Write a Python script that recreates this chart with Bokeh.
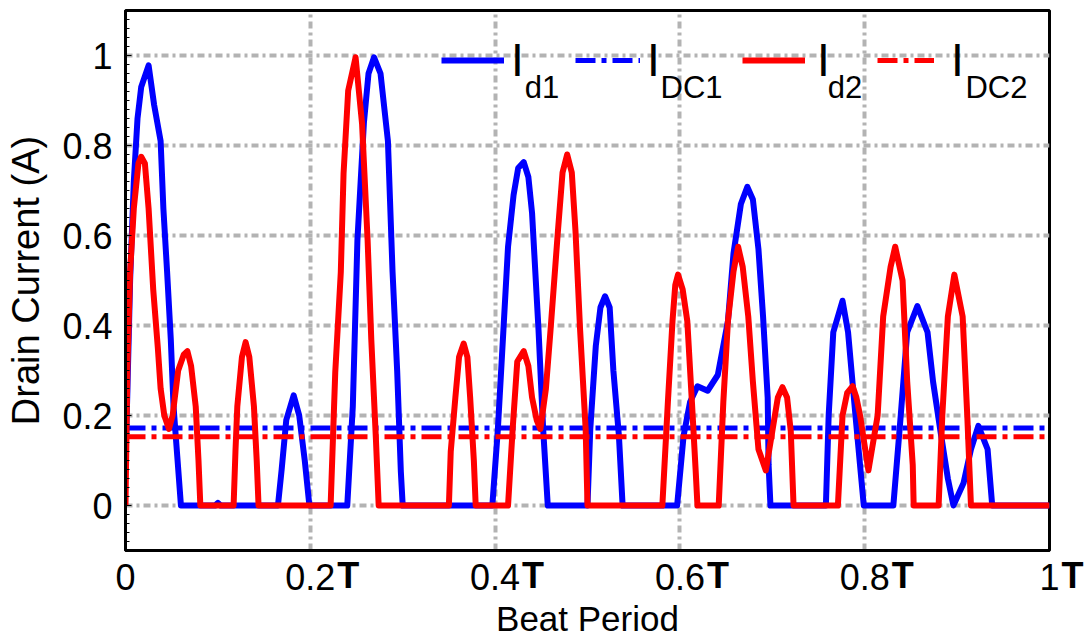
from bokeh.plotting import figure
from bokeh.models import Label, Legend, LegendItem, FixedTicker, Range1d, LinearAxis
from bokeh.embed import file_html
from bokeh.resources import INLINE

# ---- data (beat period fraction, drain current in A) ----
x_d1 = [0.000, 0.002, 0.005, 0.009, 0.013, 0.017, 0.025, 0.031, 0.038, 0.041, 0.045, 0.049,
        0.052, 0.056, 0.060, 0.097, 0.100, 0.103, 0.165, 0.169, 0.174, 0.182, 0.188, 0.194,
        0.199, 0.240, 0.246, 0.251, 0.258, 0.263, 0.269, 0.276, 0.284, 0.289, 0.294, 0.298,
        0.300, 0.397, 0.403, 0.409, 0.414, 0.420, 0.425, 0.431, 0.436, 0.440, 0.447, 0.452,
        0.457, 0.500, 0.503, 0.509, 0.514, 0.519, 0.524, 0.528, 0.534, 0.538, 0.597, 0.604,
        0.611, 0.619, 0.630, 0.641, 0.652, 0.658, 0.666, 0.673, 0.679, 0.685, 0.690, 0.695,
        0.696, 0.698, 0.758, 0.761, 0.766, 0.776, 0.782, 0.790, 0.799, 0.831, 0.839, 0.846,
        0.857, 0.868, 0.874, 0.882, 0.890, 0.896, 0.907, 0.915, 0.923, 0.933, 0.938, 1.000]
id1 = [0.10, 0.25, 0.50, 0.72, 0.86, 0.93, 0.978, 0.89, 0.81, 0.66, 0.52, 0.37,
       0.22, 0.11, 0.0, 0.0, 0.006, 0.0, 0.0, 0.08, 0.19, 0.245, 0.20, 0.10,
       0.0, 0.0, 0.22, 0.59, 0.85, 0.96, 0.996, 0.96, 0.81, 0.52, 0.30, 0.075,
       0.0, 0.0, 0.17, 0.39, 0.575, 0.69, 0.75, 0.763, 0.73, 0.65, 0.39, 0.17,
       0.0, 0.0, 0.17, 0.355, 0.44, 0.465, 0.44, 0.30, 0.155, 0.0, 0.0, 0.155,
       0.23, 0.265, 0.255, 0.29, 0.41, 0.56, 0.67, 0.708, 0.68, 0.57, 0.42, 0.24,
       0.09, 0.0, 0.0, 0.20, 0.385, 0.455, 0.385, 0.20, 0.0, 0.0, 0.20, 0.385,
       0.443, 0.385, 0.275, 0.165, 0.06, 0.0, 0.05, 0.125, 0.177, 0.125, 0.0, 0.0]

x_d2 = [0.000, 0.001, 0.002, 0.005, 0.009, 0.011, 0.014, 0.017, 0.021, 0.025, 0.030, 0.035,
        0.038, 0.042, 0.047, 0.051, 0.057, 0.063, 0.067, 0.071, 0.076, 0.079, 0.081, 0.117,
        0.119, 0.121, 0.126, 0.130, 0.134, 0.139, 0.142, 0.144, 0.222, 0.227, 0.233, 0.236,
        0.241, 0.249, 0.256, 0.262, 0.266, 0.271, 0.274, 0.350, 0.352, 0.357, 0.361, 0.366,
        0.370, 0.373, 0.377, 0.379, 0.414, 0.419, 0.424, 0.431, 0.436, 0.440, 0.445, 0.449,
        0.455, 0.460, 0.468, 0.473, 0.478, 0.483, 0.487, 0.492, 0.498, 0.500, 0.581, 0.587,
        0.592, 0.595, 0.598, 0.603, 0.608, 0.613, 0.617, 0.619, 0.642, 0.647, 0.652, 0.658,
        0.663, 0.668, 0.674, 0.679, 0.685, 0.693, 0.700, 0.706, 0.711, 0.716, 0.720, 0.723,
        0.771, 0.776, 0.781, 0.787, 0.791, 0.795, 0.804, 0.814, 0.820, 0.828, 0.833, 0.841,
        0.846, 0.852, 0.853, 0.880, 0.884, 0.890, 0.897, 0.906, 0.911, 0.915, 1.000]
id2 = [0.0, 0.15, 0.30, 0.52, 0.66, 0.70, 0.76, 0.775, 0.76, 0.66, 0.48, 0.35,
       0.26, 0.20, 0.17, 0.20, 0.30, 0.335, 0.343, 0.31, 0.22, 0.10, 0.0, 0.0,
       0.12, 0.22, 0.33, 0.363, 0.33, 0.22, 0.10, 0.0, 0.0, 0.296, 0.518, 0.738,
       0.922, 0.996, 0.849, 0.591, 0.369, 0.148, 0.0, 0.0, 0.12, 0.24, 0.33, 0.36,
       0.33, 0.24, 0.10, 0.0, 0.0, 0.17, 0.32, 0.343, 0.31, 0.24, 0.19, 0.17,
       0.26, 0.39, 0.61, 0.74, 0.78, 0.74, 0.61, 0.39, 0.17, 0.0, 0.0, 0.23,
       0.41, 0.49, 0.513, 0.48, 0.41, 0.23, 0.08, 0.0, 0.0, 0.23, 0.41, 0.52,
       0.575, 0.53, 0.42, 0.275, 0.125, 0.078, 0.165, 0.24, 0.263, 0.24, 0.165, 0.0,
       0.0, 0.20, 0.25, 0.265, 0.24, 0.20, 0.078, 0.20, 0.42, 0.53, 0.575, 0.50,
       0.275, 0.09, 0.0, 0.0, 0.20, 0.42, 0.513, 0.42, 0.20, 0.0, 0.0]

IDC1 = 0.172
IDC2 = 0.153

x_ticks = [0, 0.2, 0.4, 0.6, 0.8, 1.0]
x_tick_labels = ["0", "0.2", "0.4", "0.6", "0.8", "1"]
period_suffix = ["", "T", "T", "T", "T", "T"]
y_ticks = [0, 0.2, 0.4, 0.6, 0.8, 1.0]
y_tick_labels = ["0", "0.2", "0.4", "0.6", "0.8", "1"]
legend_main = ["I", "I", "I", "I"]
legend_subs = ["d1", "DC1", "d2", "DC2"]

FONT = "Liberation Sans"

p = figure(width=1089, height=643, x_range=Range1d(0, 1), y_range=Range1d(-0.1, 1.1),
           output_backend="svg", toolbar_location=None, title=None,
           min_border_left=125, min_border_right=40, min_border_top=10, min_border_bottom=93)
p.background_fill_color = "white"
p.border_fill_color = "white"
p.outline_line_color = "black"
p.outline_line_width = 3

# grid
for g in (p.xgrid, p.ygrid):
    g.grid_line_color = "#b3b3b3"
    g.grid_line_width = 4
    g.grid_line_dash = "7 4 3 4"

# axes
xa = p.xaxis[0]
ya = p.yaxis[0]
xa.ticker = FixedTicker(ticks=x_ticks)
xa.major_label_overrides = {t: l for t, l in zip(x_ticks, x_tick_labels)}
ya.ticker = FixedTicker(ticks=y_ticks,
                        minor_ticks=[round(-0.1 + 0.02 * i, 2) for i in range(61)])
ya.major_label_overrides = {t: l for t, l in zip(y_ticks, y_tick_labels)}
for ax in (xa, ya):
    ax.axis_line_color = "black"
    ax.axis_line_width = 3
    ax.major_tick_out = 0
    ax.minor_tick_out = 0
    ax.major_label_text_font = FONT
    ax.major_label_text_font_size = "36px"
    ax.major_label_text_color = "black"
    ax.axis_label_text_font = FONT
    ax.axis_label_text_font_style = "normal"
    ax.axis_label_text_color = "black"
xa.major_tick_in = 0
xa.minor_tick_in = 0
xa.major_label_standoff = 13
ya.major_tick_in = 6
ya.minor_tick_in = 4
ya.major_tick_line_color = "black"
ya.minor_tick_line_color = "black"
ya.major_label_standoff = 13
ya.axis_label = "Drain Current (A)"
ya.axis_label_text_font_size = "38px"
ya.axis_label_standoff = 12

# bold period suffix "T" after each tick label: a second bottom axis whose labels
# are pulled up next to the numbers; it also carries the x axis title.
t_pos = []
t_lab = {}
for t, lab, suf in zip(x_ticks, x_tick_labels, period_suffix):
    if suf:
        if lab == "1":
            pos, text = t, "\u2003\u00a0" + suf
        else:
            pos, text = round(t + 0.0411, 4), suf
        t_pos.append(pos)
        t_lab[pos] = text
t_axis = LinearAxis(ticker=FixedTicker(ticks=t_pos),
                    major_label_overrides=t_lab, major_label_text_font=FONT,
                    major_label_text_font_size="36px", major_label_text_font_style="bold",
                    major_label_text_color="black", major_label_standoff=-38,
                    axis_line_alpha=0, major_tick_line_alpha=0, minor_tick_line_alpha=0,
                    major_tick_in=0, major_tick_out=0, minor_tick_in=0, minor_tick_out=0,
                    axis_label="Beat Period", axis_label_text_font=FONT,
                    axis_label_text_font_size="35px", axis_label_text_font_style="normal",
                    axis_label_text_color="black", axis_label_standoff=0)
p.add_layout(t_axis, "below")

# curves
r1 = p.line(x_d1, id1, line_color="blue", line_width=6, line_join="round")
rdc1 = p.line([x_ticks[0], x_ticks[-1]], [IDC1, IDC1], line_color="blue", line_width=5,
              line_dash="20 6 5 6")
r2 = p.line(x_d2, id2, line_color="red", line_width=6, line_join="round")
rdc2 = p.line([x_ticks[0], x_ticks[-1]], [IDC2, IDC2], line_color="red", line_width=5,
              line_dash="20 6 5 6")

# legend (four single-entry legends, subscript added as labels)
leg_cfg = [(r1, 316, 63, 7), (rdc1, 450, 65, 7), (r2, 617, 63, 12), (rdc2, 752, 57, 17)]
for (r, vx, gw, st), main in zip(leg_cfg, legend_main):
    leg = Legend(items=[LegendItem(label=main, renderers=[r])], location=(vx, 463),
                 orientation="horizontal", glyph_width=gw, glyph_height=20,
                 label_standoff=st, padding=0, margin=0, spacing=0,
                 label_text_font=FONT, label_text_font_size="46px",
                 label_text_color="black",
                 border_line_alpha=0, background_fill_alpha=0)
    p.add_layout(leg, "center")

sub_x = [0.432, 0.579, 0.760, 0.909]
for sx, s in zip(sub_x, legend_subs):
    p.add_layout(Label(x=sx, y=0.928, text=s, text_font=FONT, text_font_size="31px",
                       text_align="left", text_baseline="alphabetic", text_color="black"))

open("out.html", "w").write(file_html(p, INLINE))
